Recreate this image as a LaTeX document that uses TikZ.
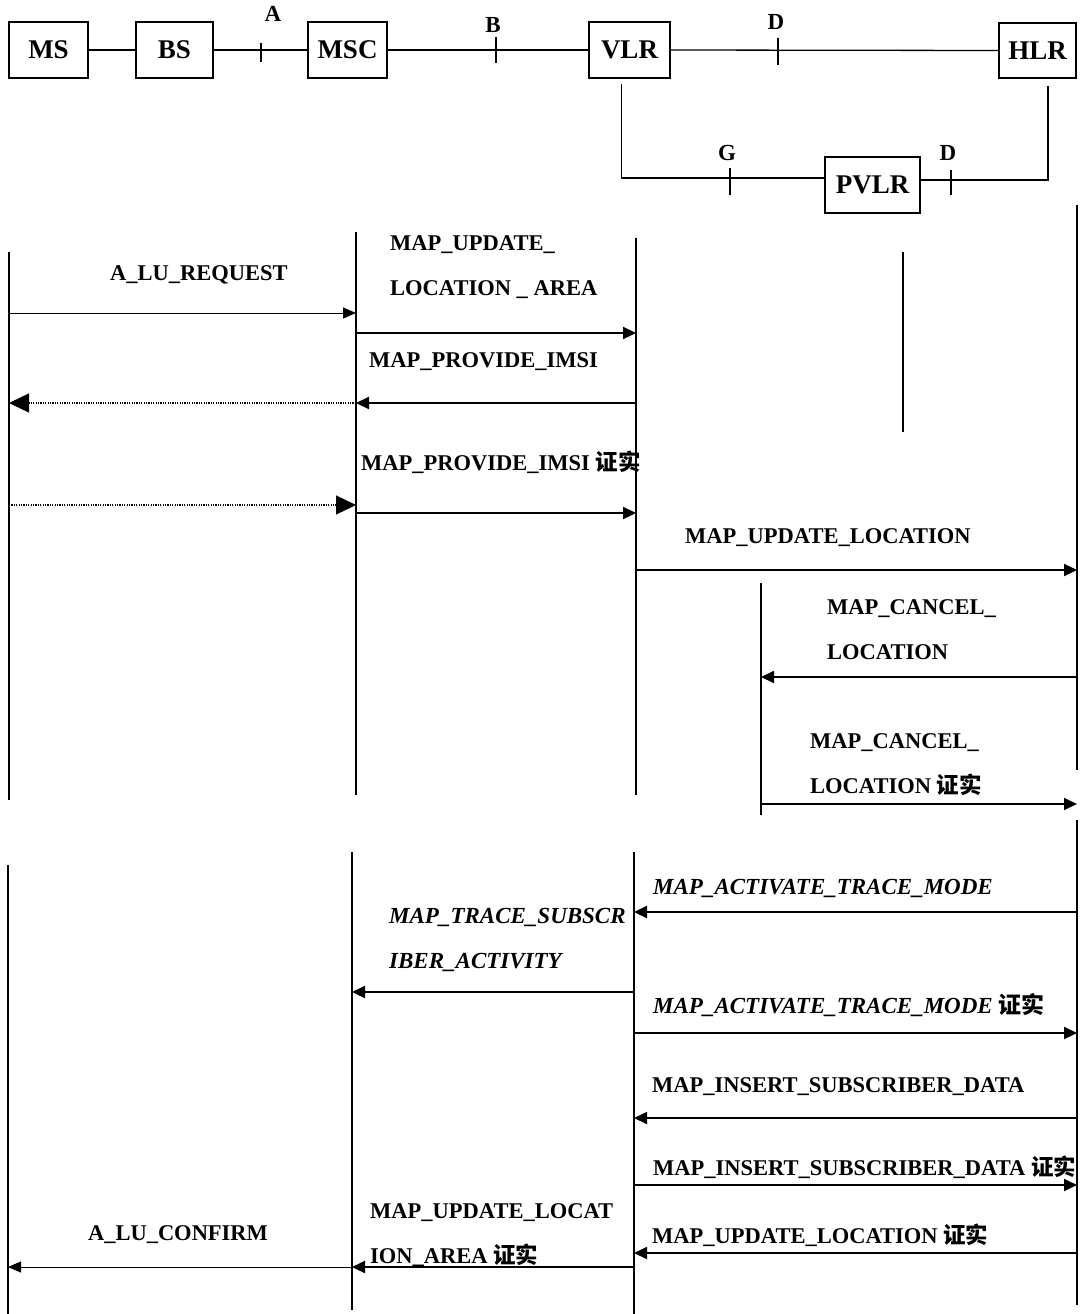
\documentclass[tikz,border=0pt]{standalone}
\usepackage{fontspec}
\setmainfont{Liberation Serif}
\newfontfamily\cjk{Noto Sans CJK SC}
\usetikzlibrary{arrows.meta,calc}
\newcommand\zhconfirm{{\cjk 证实}}

\begin{document}
\begin{tikzpicture}[x=1pt,y=-1pt,
  box/.style={draw,line width=1.2pt,minimum height=56pt,inner sep=0pt,
    font=\bfseries\fontsize{27}{30}\selectfont},
  link/.style={line width=1.3pt},
  tick/.style={line width=1.4pt},
  ifc/.style={font=\bfseries\fontsize{23}{26}\selectfont},
  life/.style={line width=1.3pt},
  msg/.style={line width=2.2pt,-{Triangle[length=13pt,width=12pt]}},
  thinmsg/.style={line width=1pt,-{Triangle[length=13pt,width=11pt]}},
  dotmsg/.style={line width=1.3pt,dash pattern=on 1.2pt off 1.2pt,
    -{Triangle[length=20pt,width=19pt]}},
  lbl/.style={anchor=west,align=left,inner sep=0pt,
    font=\bfseries\fontsize{22.5}{45}\selectfont},
  ilbl/.style={lbl,font=\bfseries\itshape\fontsize{23}{45}\selectfont}]
\useasboundingbox (0,0) rectangle (1089,1314);

% network: entities and the interfaces between them
\node[box,minimum width=79pt] (ms) at (48.5,50) {MS};
\node[box,minimum width=77pt] (bs) at (174.5,50) {BS};
\node[box,minimum width=79pt] (msc) at (347.5,50) {MSC};
\node[box,minimum width=81pt] (vlr) at (629.5,50) {VLR};
\node[box,minimum width=77pt,minimum height=55pt] (hlr) at (1037.5,50.5) {HLR};
\node[box,minimum width=95pt] (pvlr) at (872.5,185) {PVLR};
\draw[link] (ms.east)--(bs.west);
\draw[link] (bs.east)--(msc.west);
\draw[link] (msc.east)--(vlr.west);
\draw[link] (vlr.east)--(hlr.west);
\draw[link] ([xshift=-8pt,yshift=-5pt]vlr.south) |- ([yshift=7pt]pvlr.west);
\draw[link] ([xshift=10.5pt,yshift=-7pt]hlr.south) |- ([yshift=5pt]pvlr.east);
\coordinate (ta) at (261,50);
\coordinate (tb) at (496,50);
\coordinate (td) at (778,50);
\coordinate (tg) at (730,178);
\coordinate (td2) at (951,180);
\draw[tick] (ta) ++(0,-7) -- ++(0,19);
\draw[tick] (tb) ++(0,-13) -- ++(0,26);
\draw[tick] (td) ++(0,-12) -- ++(0,27);
\draw[tick] (tg) ++(0,-10) -- ++(0,27);
\draw[tick] (td2) ++(0,-10) -- ++(0,25);
\node[ifc] (la) at (273,14) {A};
\node[ifc] (lb) at (493,25) {B};
\node[ifc] (ld) at (776,22) {D};
\node[ifc] (lg) at (727,153) {G};
\node[ifc] (ld2) at (948,153) {D};

% first part: request, IMSI, update and cancel
\coordinate (ms1t) at (9,252);    \coordinate (ms1b) at (9,800);
\coordinate (msc1t) at (356,232); \coordinate (msc1b) at (356,795);
\coordinate (vlr1t) at (636,238); \coordinate (vlr1b) at (636,795);
\coordinate (pv1t) at (903,252);  \coordinate (pv1b) at (903,432);
\coordinate (hlr1t) at (1077,205);\coordinate (hlr1b) at (1077,770);
\coordinate (pv2t) at (761,583);  \coordinate (pv2b) at (761,815);
\foreach \a in {ms1,msc1,vlr1,pv1,hlr1,pv2}
  \draw[life] (\a t)--(\a b);

\coordinate (r1) at (0,313);
\coordinate (r2) at (0,333);
\coordinate (r3) at (0,403);
\coordinate (r4) at (0,505);
\coordinate (r5) at (0,513);
\coordinate (r6) at (0,570);
\coordinate (r7) at (0,677);
\coordinate (r8) at (0,804);
\draw[thinmsg] (ms1t |- r1)--(msc1t |- r1);
\draw[msg] (msc1t |- r2)--(vlr1t |- r2);
\draw[msg] (vlr1t |- r3)--(msc1t |- r3);
\draw[dotmsg] (msc1t |- r3)--(ms1t |- r3);
\draw[dotmsg] (ms1t |- r4)--(msc1t |- r4);
\draw[msg] (msc1t |- r5)--(vlr1t |- r5);
\draw[msg] (vlr1t |- r6)--(hlr1t |- r6);
\draw[msg,line width=1.8pt] (hlr1t |- r7)--(pv2t |- r7);
\draw[msg,line width=1.8pt] (pv2t |- r8)--(hlr1t |- r8);

\node[lbl,anchor=center] (l1) at (199,275) {A\_LU\_REQUEST};
\node[lbl] (l2) at (390,267) {MAP\_UPDATE\_\\LOCATION \_ AREA};
\node[lbl] (l3) at (369,362) {MAP\_PROVIDE\_IMSI};
\node[lbl] (l4) at (361,462) {MAP\_PROVIDE\_IMSI \zhconfirm};
\node[lbl] (l5) at (685,538) {MAP\_UPDATE\_LOCATION};
\node[lbl] (l6) at (827,630) {MAP\_CANCEL\_\\LOCATION};
\node[lbl] (l7) at (810,765) {MAP\_CANCEL\_\\LOCATION \zhconfirm};

% second part: trace, subscriber data and confirmations
\coordinate (ms2t) at (8,865);    \coordinate (ms2b) at (8,1314);
\coordinate (msc2t) at (352,852); \coordinate (msc2b) at (352,1310);
\coordinate (vlr2t) at (634,852); \coordinate (vlr2b) at (634,1314);
\coordinate (hlr2t) at (1077,820);\coordinate (hlr2b) at (1077,1305);
\foreach \a in {ms2,msc2,vlr2,hlr2}
  \draw[life] (\a t)--(\a b);

\coordinate (s1) at (0,912);
\coordinate (s2) at (0,992);
\coordinate (s3) at (0,1033);
\coordinate (s4) at (0,1118);
\coordinate (s5) at (0,1185);
\coordinate (s6) at (0,1253);
\coordinate (s7) at (0,1267);
\draw[msg] (hlr2t |- s1)--(vlr2t |- s1);
\draw[msg] (vlr2t |- s2)--(msc2t |- s2);
\draw[msg] (vlr2t |- s3)--(hlr2t |- s3);
\draw[msg,line width=1.8pt] (hlr2t |- s4)--(vlr2t |- s4);
\draw[msg,line width=1.8pt] (vlr2t |- s5)--(hlr2t |- s5);
\draw[msg,line width=1.8pt] (hlr2t |- s6)--(vlr2t |- s6);
\draw[msg] (vlr2t |- s7)--(msc2t |- s7);
\draw[thinmsg] (msc2t |- s7)--(ms2t |- s7);

\node[ilbl] (l8) at (653,888) {MAP\_ACTIVATE\_TRACE\_MODE};
\node[ilbl] (l9) at (389,940) {MAP\_TRACE\_SUBSCR\\IBER\_ACTIVITY};
\node[ilbl] (l10) at (653,1005) {MAP\_ACTIVATE\_TRACE\_MODE \zhconfirm};
\node[lbl] (l11) at (652,1087) {MAP\_INSERT\_SUBSCRIBER\_DATA};
\node[lbl] (l12) at (653,1167) {MAP\_INSERT\_SUBSCRIBER\_DATA \zhconfirm};
\node[lbl] (l13) at (652,1235) {MAP\_UPDATE\_LOCATION \zhconfirm};
\node[lbl] (l14) at (370,1235) {MAP\_UPDATE\_LOCAT\\ION\_AREA \zhconfirm};
\node[lbl,anchor=center] (l15) at (178,1235) {A\_LU\_CONFIRM};
\end{tikzpicture}
\end{document}
